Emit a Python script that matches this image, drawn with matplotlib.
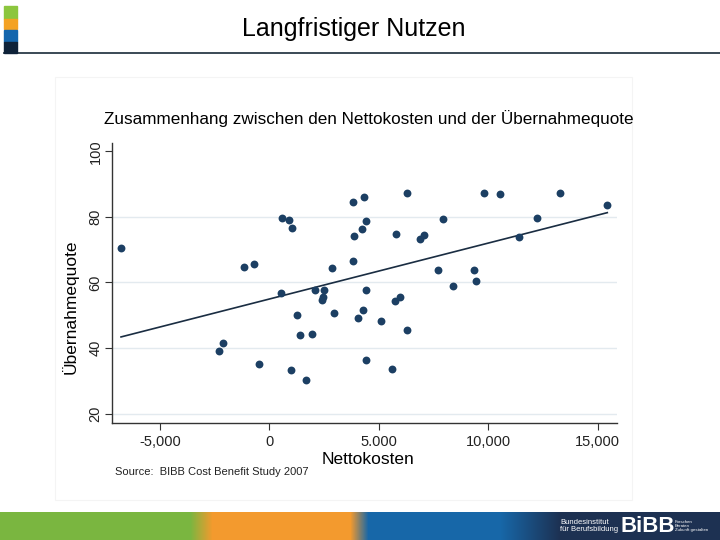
import numpy as np
import matplotlib
matplotlib.use("Agg")
import matplotlib.pyplot as plt
from matplotlib.patches import Rectangle

plt.rcParams["font.family"] = ["Liberation Sans", "DejaVu Sans"]

# Nettokosten (EUR) and Übernahmequote (%) per occupation
net_cost = [-6772, -1142, -685, -2297, -2128, -484, 566, 886, 1037, 534, 2877,
            2073, 2484, 2452, 2420, 1265, 2968, 1416, 1936, 1005, 1662, 3808,
            3881, 3836, 4311, 6288, 9804, 10521, 13260, 15434, 4416, 7932,
            12237, 4219, 5799, 6868, 7078, 11402, 7703, 9361, 9425, 8402, 4416,
            5740, 5982, 4265, 4064, 5087, 6288, 4416, 5603]
takeover = [70.5, 64.7, 65.6, 39.0, 41.5, 35.2, 79.6, 79.1, 76.6, 56.8, 64.4,
            57.8, 57.8, 55.7, 54.6, 50.0, 50.6, 43.9, 44.4, 33.2, 30.3, 84.6,
            74.3, 66.6, 86.0, 87.2, 87.3, 86.9, 87.3, 83.5, 78.8, 79.5,
            79.6, 76.2, 74.7, 73.2, 74.6, 73.8, 63.7, 63.7, 60.4, 58.8, 57.7,
            54.4, 55.7, 51.7, 49.1, 48.3, 45.6, 36.3, 33.7]

x_ticks = [-5000, 0, 5000, 10000, 15000]
x_ticklabels = ["-5,000", "0", "5.000", "10,000", "15,000"]
y_ticks = [20, 40, 60, 80, 100]

NAVY = "#1c3f63"

fig = plt.figure(figsize=(7.2, 5.4), dpi=100)

# header: colour strip, title, rule
for y0, y1, c in [(6, 19, "#8cc63e"), (19, 29, "#f4a224"), (30, 42, "#1466ad"), (42, 53, "#0e2239")]:
    fig.patches.append(Rectangle((4 / 720, 1 - y1 / 540), 13 / 720, (y1 - y0) / 540,
                                 transform=fig.transFigure, color=c, zorder=3))
fig.add_artist(plt.Line2D([4 / 720, 1], [1 - 53 / 540] * 2, color="#2b3a48", lw=1.3))
fig.text(0.492, 0.946, "Langfristiger Nutzen", ha="center", va="center", fontsize=18)

# faint panel frame
fig.patches.append(Rectangle((55 / 720, 1 - 500 / 540), 577 / 720, 423 / 540,
                             transform=fig.transFigure, fill=False, ec="#f4f4f4", lw=0.8))

ax = fig.add_axes([0.156, 0.2161, 0.7005, 0.5196])
ax.set_xlim(-7169, 15863)
ax.set_ylim(17.07, 102.6)
for yv in y_ticks[:-1]:
    ax.axhline(yv, color="#e3eaef", lw=1.0, zorder=0)

ax.scatter(net_cost, takeover, s=32, color=NAVY, zorder=3, linewidths=0)
slope, icpt = np.polyfit(net_cost, takeover, 1)
xs = np.array([min(net_cost), max(net_cost)])
ax.plot(xs, icpt + slope * xs, color="#1a2d42", lw=1.2, zorder=2)

ax.set_xticks(x_ticks)
ax.set_xticklabels(x_ticklabels)
ax.set_yticks(y_ticks)
ax.set_yticklabels([str(v) for v in y_ticks], rotation=90, va="center")
ax.tick_params(axis="both", labelsize=10.5, length=5, width=0.8, color="#333333", labelcolor="#222222")
ax.tick_params(axis="y", pad=2)
ax.tick_params(axis="x", pad=3.5)
for side in ["top", "right"]:
    ax.spines[side].set_visible(False)
for side in ["left", "bottom"]:
    ax.spines[side].set_color("#333333")
    ax.spines[side].set_linewidth(1.0)

fig.text(368 / 720, 1 - 459 / 540, "Nettokosten", ha="center", va="center", fontsize=12.5)
fig.text(70 / 720, 1 - 307 / 540, "Übernahmequote", rotation=90, ha="center", va="center", fontsize=12.5)
fig.text(0.512, 0.780, "Zusammenhang zwischen den Nettokosten und der Übernahmequote",
         ha="center", va="center", fontsize=12.3)
fig.text(115 / 720, 1 - 472 / 540, "Source:  BIBB Cost Benefit Study 2007",
         ha="left", va="center", fontsize=8, color="#222222")

# footer gradient bar
bar = fig.add_axes([0, 0, 1, 28 / 540])
stops_px = [0, 190, 212, 350, 368, 500, 560, 720]
stops_rgb = np.array([matplotlib.colors.to_rgb(c) for c in
                      ["#7ab640", "#7ab640", "#f39a2e", "#f39a2e", "#1767a8", "#1767a8", "#1d3152", "#1d3152"]])
px = np.arange(720)
grad = np.stack([np.interp(px, stops_px, stops_rgb[:, k]) for k in range(3)], axis=-1)
bar.imshow(grad[None, :, :], aspect="auto", extent=[0, 720, 0, 28])
bar.set_xlim(0, 720)
bar.set_ylim(0, 28)
bar.axis("off")
bar.text(560, 14, "Bundesinstitut\nfür Berufsbildung", color="white", fontsize=5.5,
         ha="left", va="center", linespacing=1.1)
bar.text(620, 13, "BiBB", color="white", fontsize=16, fontweight="bold", ha="left", va="center")
bar.text(675, 14, "Forschen\nBeraten\nZukunft gestalten", color="white", fontsize=3.2,
         ha="left", va="center", linespacing=1.1)

fig.savefig("out.png", dpi=100)
